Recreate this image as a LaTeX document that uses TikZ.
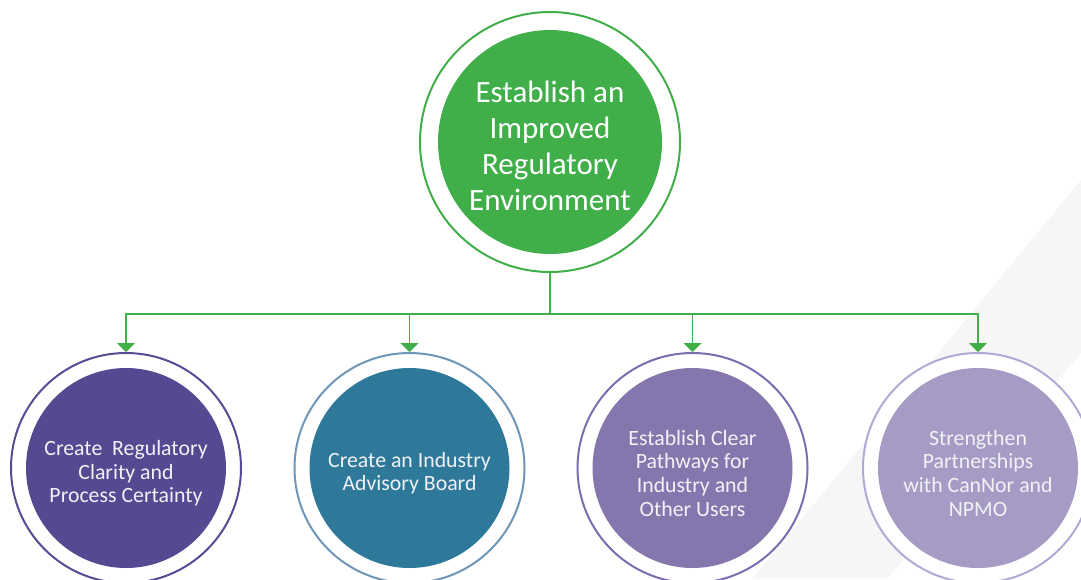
\documentclass[tikz,border=0pt]{standalone}
\usepackage{fontspec}
\setmainfont{Carlito}
\usetikzlibrary{arrows.meta}

\definecolor{goalgreen}{RGB}{64,174,73}
\definecolor{clarityfill}{RGB}{86,73,145}
\definecolor{clarityring}{RGB}{88,74,148}
\definecolor{boardfill}{RGB}{46,121,153}
\definecolor{boardring}{RGB}{110,150,185}
\definecolor{pathfill}{RGB}{133,119,174}
\definecolor{pathring}{RGB}{125,108,175}
\definecolor{partnerfill}{RGB}{165,155,197}
\definecolor{partnerring}{RGB}{178,168,214}
\definecolor{bandgray}{RGB}{246,246,246}
\definecolor{softwhite}{RGB}{242,242,246}

% extra room above the first line, to set the text a bit lower
\newcommand{\upgap}[1]{\rule{0pt}{#1}}

\begin{document}
\begin{tikzpicture}[x=1pt,y=-1pt,
		ring/.style = {circle, draw = #1, line width = 2pt, fill = white,
			minimum size = 230pt, inner sep = 0pt},
		core/.style = {circle, fill = #1, minimum size = 200pt, inner sep = 0pt,
			text = softwhite, align = center, font = \fontsize{21.8}{23.6}\selectfont},
		link/.style = {draw = goalgreen, line width = 1.3pt},
		linkarrow/.style = {link, -{Triangle[width=18pt,length=9pt]}}]
		\clip (0,0) rectangle (1081,579);
		\useasboundingbox (0,0) rectangle (1081,579);
		
		% background stripe
		\fill[bandgray] (1081,180) -- (752,579) -- (887,579) -- (1081,353) -- cycle;
		
		% goal
		\node[ring = goalgreen, minimum size = 260pt] (goalring) at (550,142) {};
		\node[core = goalgreen, minimum size = 224pt, text = white,
			font = \fontsize{31}{36}\selectfont] (goal) at (550,142)
			{\upgap{30pt}Establish an\\Improved\\Regulatory\\Environment};
		
		% actions
		\node[ring = clarityring] (clarityring) at (126,468) {};
		\node[core = clarityfill] (clarity) at (126,468)
			{\upgap{25.5pt}Create\ \ Regulatory\\Clarity and\\Process Certainty};
		
		\node[ring = boardring] (boardring) at (409.5,468) {};
		\node[core = boardfill] (board) at (409.5,468)
			{\upgap{25.5pt}Create an Industry\\Advisory Board};
		
		\node[ring = pathring] (pathring) at (692.5,468) {};
		\node[core = pathfill] (path) at (692.5,468)
			{\upgap{25.5pt}Establish Clear\\Pathways for\\Industry and\\Other Users};
		
		\node[ring = partnerring] (partnerring) at (978,468) {};
		\node[core = partnerfill] (partner) at (978,468)
			{\upgap{25.5pt}Strengthen\\Partnerships\\with CanNor and\\NPMO};
		
		% connectors
		\coordinate (hub) at (goalring.south |- 0,314);
		\draw[link] (goalring.south) -- (hub);
		\draw[linkarrow] (hub) -| (clarityring.north);
		\draw[linkarrow] (hub) -| (boardring.north);
		\draw[linkarrow] (hub) -| (pathring.north);
		\draw[linkarrow] (hub) -| (partnerring.north);
	\end{tikzpicture}
\end{document}
